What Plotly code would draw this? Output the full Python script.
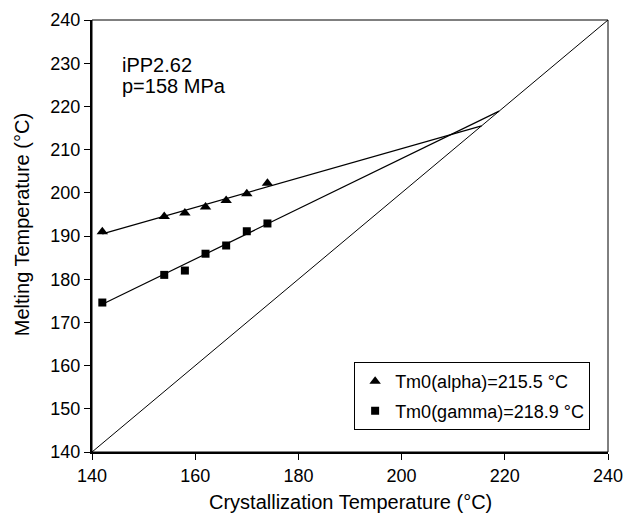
import plotly.graph_objects as go

tc = [142, 154, 158, 162, 166, 170, 174]
tm_alpha = [191.0, 194.5, 195.3, 196.7, 198.2, 199.8, 202.2]
tm_gamma = [174.6, 181.0, 182.0, 185.9, 187.8, 191.1, 192.9]

fit_alpha_x = [142, 215.5]
fit_alpha_y = [190.5, 215.5]
fit_gamma_x = [142, 218.9]
fit_gamma_y = [174.2, 218.9]
diag = [140, 240]

x_ticks = [140, 160, 180, 200, 220, 240]
y_ticks = [140, 150, 160, 170, 180, 190, 200, 210, 220, 230, 240]

FONT = "Liberation Sans, Arial, sans-serif"

fig = go.Figure()
fig.add_trace(go.Scatter(x=diag, y=diag, mode="lines", line=dict(color="black", width=1), showlegend=False))
fig.add_trace(go.Scatter(x=fit_alpha_x, y=fit_alpha_y, mode="lines", line=dict(color="black", width=1.2), showlegend=False))
fig.add_trace(go.Scatter(x=fit_gamma_x, y=fit_gamma_y, mode="lines", line=dict(color="black", width=1.2), showlegend=False))
fig.add_trace(go.Scatter(x=tc, y=tm_alpha, mode="markers", name="Tm0(alpha)=215.5 °C",
                         legendgroup="a",
                         marker=dict(symbol="triangle-up", size=10, color="black")))
fig.add_trace(go.Scatter(x=tc, y=tm_gamma, mode="markers", name="Tm0(gamma)=218.9 °C",
                         legendgroup="g",
                         marker=dict(symbol="square", size=8, color="black")))

fig.add_annotation(x=145.5, y=229.7, xref="x", yref="y", text="iPP2.62", showarrow=False,
                   xanchor="left", yanchor="middle", font=dict(size=20, color="black", family=FONT))
fig.add_annotation(x=145.5, y=224.8, xref="x", yref="y", text="p=158 MPa", showarrow=False,
                   xanchor="left", yanchor="middle", font=dict(size=20, color="black", family=FONT))

# axis titles
fig.add_annotation(x=0.5, y=0, xref="paper", yref="paper", yshift=-50, text="Crystallization Temperature (°C)",
                   showarrow=False, xanchor="center", yanchor="middle",
                   font=dict(size=20, color="black", family=FONT))
fig.add_annotation(x=0, y=0.525, xref="paper", yref="paper", xshift=-70, text="Melting Temperature (°C)",
                   textangle=-90, showarrow=False, xanchor="center", yanchor="middle",
                   font=dict(size=20, color="black", family=FONT))

# thin frame on top/right
fig.add_shape(type="rect", xref="paper", yref="paper", x0=0, y0=0, x1=1, y1=1,
              line=dict(color="black", width=1), layer="above")

fig.update_layout(
    width=626, height=513,
    margin=dict(l=92, r=18, t=20, b=61),
    paper_bgcolor="white", plot_bgcolor="white",
    font=dict(family=FONT, color="black", size=18),
    legend=dict(x=0.508, y=0.208, xanchor="left", yanchor="top",
                bordercolor="black", borderwidth=1, bgcolor="white",
                font=dict(size=18, family=FONT, color="black"),
                tracegroupgap=3, traceorder="grouped"),
)
fig.update_xaxes(range=[140, 240], tickvals=x_ticks, showgrid=False, zeroline=False, automargin=False,
                 showline=True, linecolor="black", linewidth=2, ticks="outside", ticklen=6,
                 tickwidth=1, tickcolor="black", tickfont=dict(size=18))
fig.update_yaxes(range=[140, 240], tickvals=y_ticks, showgrid=False, zeroline=False, automargin=False,
                 showline=True, linecolor="black", linewidth=2, ticks="outside", ticklen=6,
                 tickwidth=1, tickcolor="black", tickfont=dict(size=18))

fig.write_html("out.html")
